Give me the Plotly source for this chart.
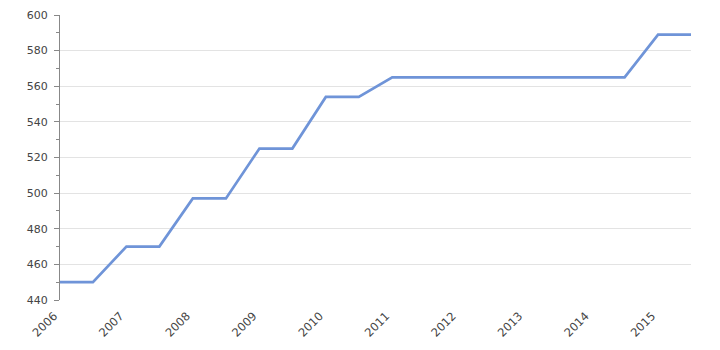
import plotly.graph_objects as go

dates = ["2006-01-01", "2006-07-01", "2007-01-01", "2007-07-01", "2008-01-01", "2008-07-01",
         "2009-01-01", "2009-07-01", "2010-01-01", "2010-07-01", "2011-01-01", "2011-07-01",
         "2012-01-01", "2012-07-01", "2013-01-01", "2013-07-01", "2014-01-01", "2014-07-01",
         "2015-01-01", "2015-07-01"]
values = [450, 450, 470, 470, 497, 497, 525, 525, 554, 554, 565, 565,
          565, 565, 565, 565, 565, 565, 589, 589]

fig = go.Figure(go.Scatter(x=dates, y=values, mode="lines",
                           line=dict(color="#6f94d8", width=2.7)))

fig.update_layout(
    width=720, height=350,
    margin=dict(l=60, r=29, t=15, b=50, autoexpand=False),
    paper_bgcolor="white", plot_bgcolor="white",
    showlegend=False,
    font=dict(family="DejaVu Sans", size=11, color="#444"),
)
fig.update_xaxes(
    type="date", range=["2006-01-01", "2015-07-01"],
    dtick="M12", tick0="2006-01-01", tickformat="%Y", tickangle=-45,
    tickfont=dict(size=11.5),
    showgrid=False, showline=False, ticks="", zeroline=False,
    automargin=False, ticklabelstandoff=6, ticklabelshift=-6,
)
fig.update_yaxes(
    range=[440, 600], dtick=20, tick0=440,
    showgrid=True, gridcolor="#e3e3e3", gridwidth=1,
    showline=True, linecolor="#888", linewidth=1,
    ticks="outside", ticklen=5, tickcolor="#888",
    minor=dict(dtick=10, ticks="outside", ticklen=3, tickcolor="#888", showgrid=False),
    zeroline=False, automargin=False, ticklabelstandoff=4,
)

fig.write_html("out.html")
